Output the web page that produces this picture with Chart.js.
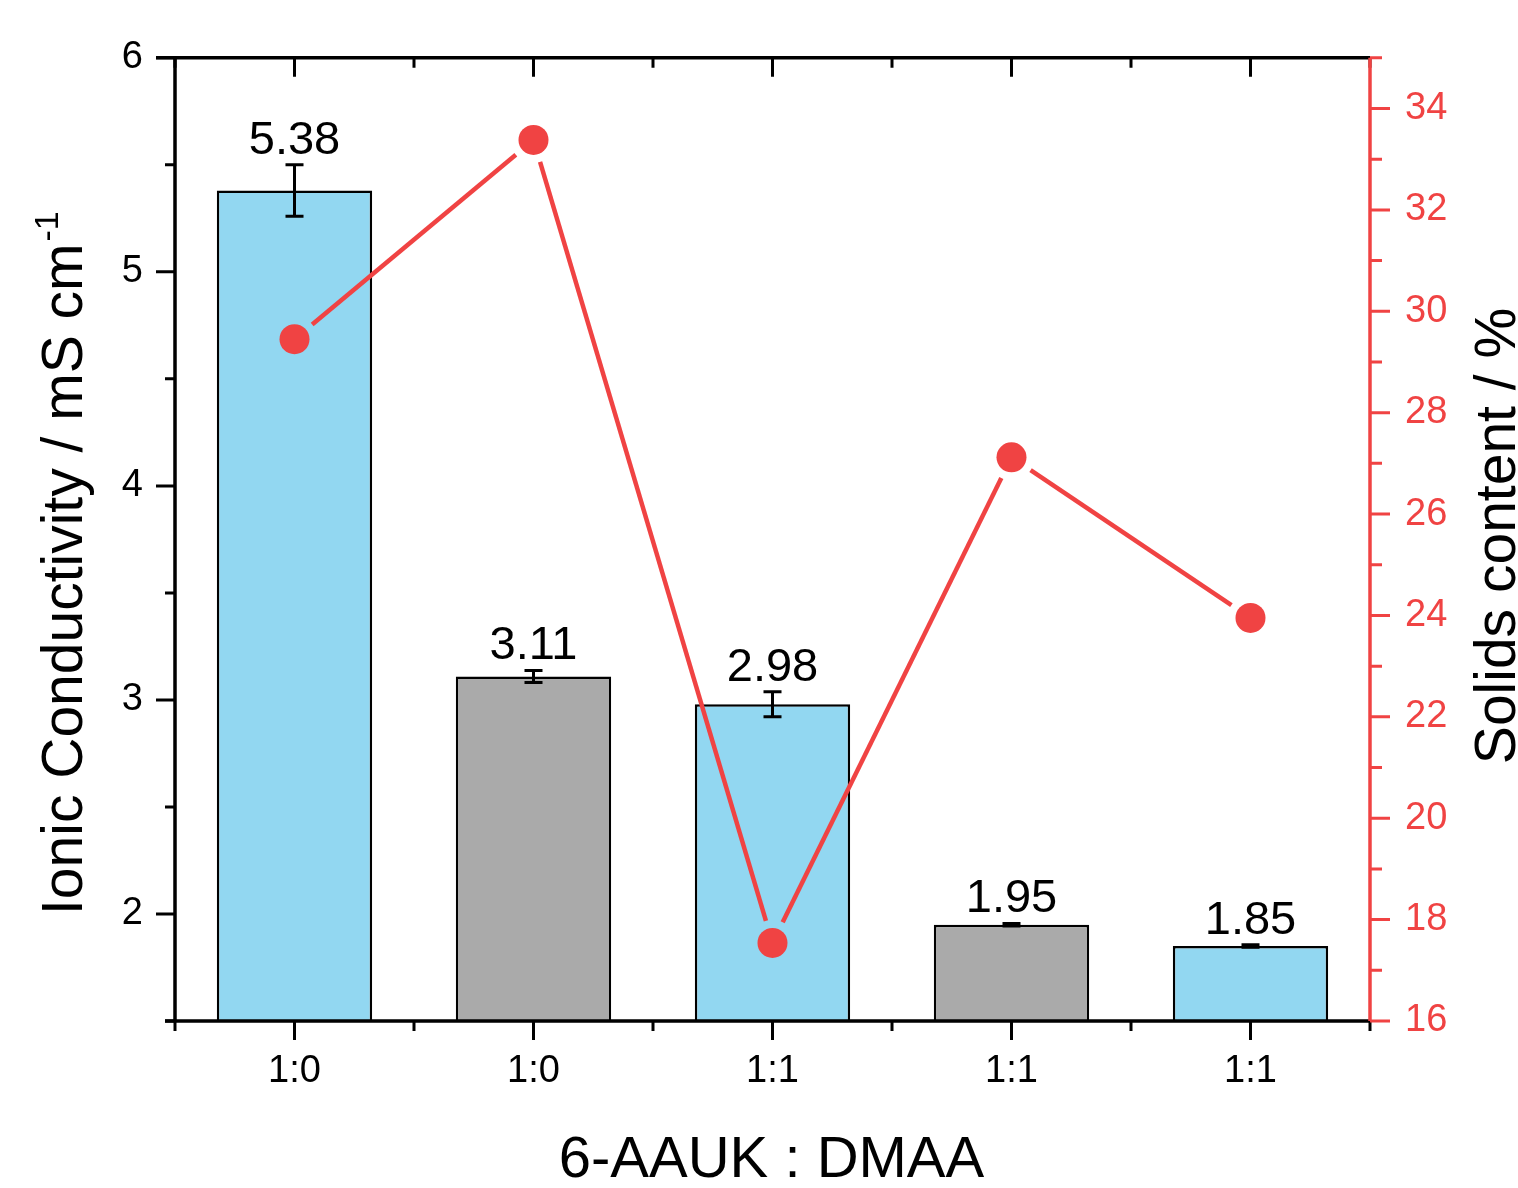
<!DOCTYPE html>
<html>
<head>
<meta charset="utf-8">
<script src="https://cdn.jsdelivr.net/npm/chart.js@4.4.0/dist/chart.umd.min.js"></script>
<style>
  body { margin: 0; background: #fff; }
  #wrap { width: 1518px; height: 1188px; }
</style>
</head>
<body>
<div id="wrap"><canvas id="chart" width="1518" height="1188"></canvas></div>
<script>
const categories = ["1:0", "1:0", "1:1", "1:1", "1:1"];
const conductivity = [5.38, 3.11, 2.98, 1.95, 1.85];
const conductivityErr = [0.12, 0.028, 0.058, 0.006, 0.006];
const solidsContent = [29.45, 33.38, 17.54, 27.12, 23.95];
const barColors = ["#92d7f1", "#aaaaaa", "#92d7f1", "#aaaaaa", "#92d7f1"];
const leftTicks = [2, 3, 4, 5, 6];
const rightTicks = [16, 18, 20, 22, 24, 26, 28, 30, 32, 34];

const FONT = '"Liberation Sans", Arial, sans-serif';
const RED = "#f04343";

// axes frame, ticks, error bars, value labels, gapped line, titles
const extras = {
  id: "extras",
  afterDatasetsDraw(chart) {
    const ctx = chart.ctx;
    const { x, y, y1 } = chart.scales;
    const a = chart.chartArea;
    ctx.save();

    // line between markers, stopping short of each one
    const pts = chart.getDatasetMeta(1).data;
    ctx.strokeStyle = RED;
    ctx.lineWidth = 4.5;
    for (let i = 0; i < pts.length - 1; i++) {
      const p = pts[i], q = pts[i + 1];
      const dx = q.x - p.x, dy = q.y - p.y, len = Math.hypot(dx, dy);
      const g = 23 / len;
      ctx.beginPath();
      ctx.moveTo(p.x + dx * g, p.y + dy * g);
      ctx.lineTo(q.x - dx * g, q.y - dy * g);
      ctx.stroke();
    }

    // error bars + labels
    ctx.strokeStyle = "#000";
    ctx.fillStyle = "#000";
    ctx.lineWidth = 3;
    ctx.font = "47px " + FONT;
    ctx.textAlign = "center";
    ctx.textBaseline = "alphabetic";
    conductivity.forEach((v, i) => {
      const cx = x.getPixelForValue(i);
      const top = y.getPixelForValue(v + conductivityErr[i]);
      const bot = y.getPixelForValue(v - conductivityErr[i]);
      ctx.beginPath();
      ctx.moveTo(cx, top); ctx.lineTo(cx, bot);
      ctx.moveTo(cx - 9, top); ctx.lineTo(cx + 9, top);
      ctx.moveTo(cx - 9, bot); ctx.lineTo(cx + 9, bot);
      ctx.stroke();
      ctx.fillText(v.toFixed(2), cx, top - 11);
    });

    // frame
    ctx.lineWidth = 3.5;
    ctx.strokeStyle = "#000";
    ctx.beginPath();
    ctx.moveTo(a.left, a.top); ctx.lineTo(a.left, a.bottom);
    ctx.moveTo(a.left - 19, a.top); ctx.lineTo(a.right, a.top);
    ctx.moveTo(a.left - 10, a.bottom); ctx.lineTo(a.right, a.bottom);
    ctx.stroke();

    ctx.lineWidth = 3;
    ctx.beginPath();
    // left ticks
    leftTicks.forEach(v => {
      const py = y.getPixelForValue(v);
      ctx.moveTo(a.left - 19, py); ctx.lineTo(a.left, py);
    });
    for (let v = 1.5; v < 6; v += 1) {
      const py = y.getPixelForValue(v);
      ctx.moveTo(a.left - 10, py); ctx.lineTo(a.left, py);
    }
    // bottom / top ticks
    categories.forEach((c, i) => {
      const px = x.getPixelForValue(i);
      ctx.moveTo(px, a.bottom); ctx.lineTo(px, a.bottom + 19);
      ctx.moveTo(px, a.top); ctx.lineTo(px, a.top + 19);
    });
    for (let i = 0; i <= categories.length; i++) {
      const px = x.getPixelForValue(i - 0.5);
      ctx.moveTo(px, a.bottom); ctx.lineTo(px, a.bottom + 10);
      ctx.moveTo(px, a.top); ctx.lineTo(px, a.top + 10);
    }
    ctx.stroke();

    // right axis
    ctx.strokeStyle = RED;
    ctx.lineWidth = 3.5;
    ctx.beginPath();
    ctx.moveTo(a.right, a.top); ctx.lineTo(a.right, a.bottom);
    ctx.stroke();
    ctx.lineWidth = 3;
    ctx.beginPath();
    rightTicks.forEach(v => {
      const py = y1.getPixelForValue(v);
      ctx.moveTo(a.right, py); ctx.lineTo(a.right + 20, py);
    });
    for (let v = 17; v <= 35; v += 2) {
      const py = y1.getPixelForValue(v);
      ctx.moveTo(a.right, py); ctx.lineTo(a.right + 12, py);
    }
    ctx.stroke();

    // axis titles
    ctx.fillStyle = "#000";
    ctx.font = "58px " + FONT;
    ctx.textAlign = "center";
    ctx.fillText("6-AAUK : DMAA", (a.left + a.right) / 2 - 1, 1177);

    ctx.save();
    ctx.translate(82, 915);
    ctx.rotate(-Math.PI / 2);
    ctx.font = "57px " + FONT;
    ctx.textAlign = "left";
    const main = "Ionic Conductivity / mS cm";
    ctx.fillText(main, 0, 0);
    const w = ctx.measureText(main).width;
    ctx.font = "34px " + FONT;
    ctx.fillText("-1", w + 2, -24);
    ctx.restore();

    ctx.save();
    ctx.translate(1515, 536);
    ctx.rotate(-Math.PI / 2);
    ctx.font = "57px " + FONT;
    ctx.textAlign = "center";
    ctx.fillText("Solids content / %", 0, 0);
    ctx.restore();

    ctx.restore();
  }
};

new Chart(document.getElementById("chart"), {
  data: {
    labels: categories,
    datasets: [
      {
        type: "bar",
        label: "Ionic Conductivity",
        data: conductivity,
        yAxisID: "y",
        backgroundColor: barColors,
        borderColor: "#000",
        borderWidth: 2.5,
        barPercentage: 0.65,
        categoryPercentage: 1,
        order: 2
      },
      {
        type: "line",
        label: "Solids content",
        data: solidsContent,
        yAxisID: "y1",
        showLine: false,
        pointRadius: 15,
        pointHoverRadius: 15,
        pointBackgroundColor: RED,
        pointBorderWidth: 0,
        order: 1
      }
    ]
  },
  options: {
    responsive: false,
    animation: false,
    events: [],
    layout: { padding: { top: 55, left: 0, right: 0, bottom: 0 } },
    plugins: { legend: { display: false }, tooltip: { enabled: false } },
    scales: {
      x: {
        type: "category",
        offset: true,
        grid: { display: false, drawTicks: false },
        border: { display: false },
        ticks: { color: "#000", font: { family: FONT, size: 38 }, padding: 28, maxRotation: 0 },
        afterFit: s => { s.height = 167; }
      },
      y: {
        position: "left",
        min: 1.5,
        max: 6,
        grid: { display: false, drawTicks: false },
        border: { display: false },
        afterBuildTicks: s => { s.ticks = leftTicks.map(v => ({ value: v })); },
        ticks: { color: "#000", font: { family: FONT, size: 38 }, padding: 32 },
        afterFit: s => { s.width = 175; }
      },
      y1: {
        position: "right",
        min: 16,
        max: 35,
        grid: { display: false, drawTicks: false },
        border: { display: false },
        afterBuildTicks: s => { s.ticks = rightTicks.map(v => ({ value: v })); },
        ticks: { color: RED, font: { family: FONT, size: 38 }, padding: 35 },
        afterFit: s => { s.width = 148; }
      }
    }
  },
  plugins: [extras]
});
</script>
</body>
</html>
